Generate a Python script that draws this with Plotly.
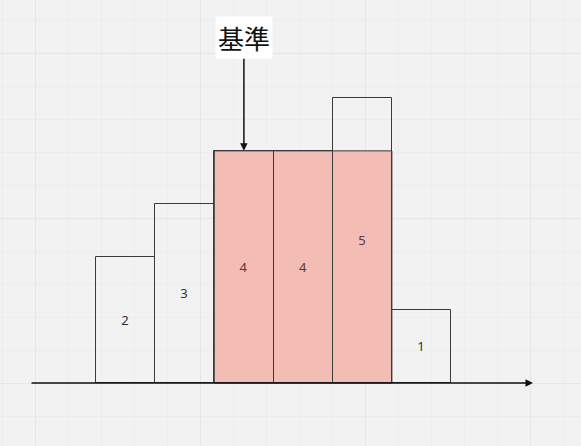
import plotly.graph_objects as go

# ---- data ----
bar_index = [0, 1, 2, 3, 4, 5]
bar_values = [2, 3, 4, 4, 5, 1]
ref_index = 2                      # 基準 bar
highlight_from, highlight_to = 2, 4
ref_label = "基準"

ref_value = bar_values[ref_index]

# ---- layout constants (pixel geometry of the drawing) ----
W, H = 581, 446
PX_X = 59.2            # pixels per bar unit in x
PX_Y = 53.0            # pixels per value unit in y
X_ORIGIN_PX = 125.5    # pixel of bar index 0 centre
BASE_PX = 383.0        # pixel row of the horizontal axis
BASE = -0.38           # value level of the axis line

x0 = -X_ORIGIN_PX / PX_X
x_range = [x0, x0 + W / PX_X]
y_top = (BASE_PX) / PX_Y + BASE
y_range = [y_top - H / PX_Y, y_top]

def xd(px):
    return x0 + px / PX_X

def yd(py):
    return y_top - py / PX_Y

GRID_MINOR = 33.0
GRID_MAJOR = 165.0

label_colors = ["#5a3a36" if highlight_from <= i <= highlight_to else "#333333"
                for i in bar_index]

fig = go.Figure()

fig.add_trace(go.Bar(
    x=bar_index,
    y=[v - BASE for v in bar_values],
    base=BASE,
    width=1,
    marker=dict(color="rgba(0,0,0,0)", line=dict(color="#3a3a3a", width=1)),
    text=[str(v) for v in bar_values],
    texttemplate="%{text}",
    textposition="inside",
    insidetextanchor="middle",
    textangle=0,
    constraintext="none",
    textfont=dict(family="Noto Sans", size=13, color=label_colors),
    hoverinfo="skip",
))

# highlighted region up to the reference level
fig.add_shape(
    type="rect", xref="x", yref="y",
    x0=highlight_from - 0.5, x1=highlight_to + 0.5,
    y0=BASE, y1=ref_value,
    fillcolor="rgba(243,184,176,0.93)",
    line=dict(color="#3a3a3a", width=1),
    layer="between",
)

# reference label with arrow
fig.add_annotation(
    x=ref_index, y=ref_value, xref="x", yref="y",
    ax=0, ay=-113,
    text=ref_label, showarrow=True,
    arrowhead=2, arrowsize=1, arrowwidth=1.5, arrowcolor="#111111",
    standoff=0,
    bgcolor="#ffffff", borderpad=2,
    font=dict(family="Noto Sans CJK JP", size=26, color="#111111"),
)

# horizontal axis arrow
fig.add_annotation(
    x=xd(533), y=BASE, xref="x", yref="y",
    ax=xd(30), ay=BASE, axref="x", ayref="y",
    text="", showarrow=True,
    arrowhead=2, arrowsize=1, arrowwidth=1.5, arrowcolor="#111111",
    standoff=0,
)

fig.update_layout(
    width=W, height=H,
    margin=dict(l=0, r=0, t=0, b=0),
    paper_bgcolor="#f2f2f2", plot_bgcolor="#f2f2f2",
    bargap=0, showlegend=False,
    xaxis=dict(
        range=x_range, showticklabels=False, zeroline=False, showline=False,
        ticks="",
        tick0=xd(35), dtick=GRID_MAJOR / PX_X,
        showgrid=True, gridcolor="#e6e6e6", gridwidth=1,
        minor=dict(tick0=xd(35), dtick=GRID_MINOR / PX_X, showgrid=True,
                   gridcolor="#ededed", gridwidth=1),
        fixedrange=True,
    ),
    yaxis=dict(
        range=y_range, showticklabels=False, zeroline=False, showline=False,
        ticks="",
        tick0=yd(53), dtick=GRID_MAJOR / PX_Y,
        showgrid=True, gridcolor="#e6e6e6", gridwidth=1,
        minor=dict(tick0=yd(53), dtick=GRID_MINOR / PX_Y, showgrid=True,
                   gridcolor="#ededed", gridwidth=1),
        fixedrange=True,
    ),
)

fig.write_html("out.html")
